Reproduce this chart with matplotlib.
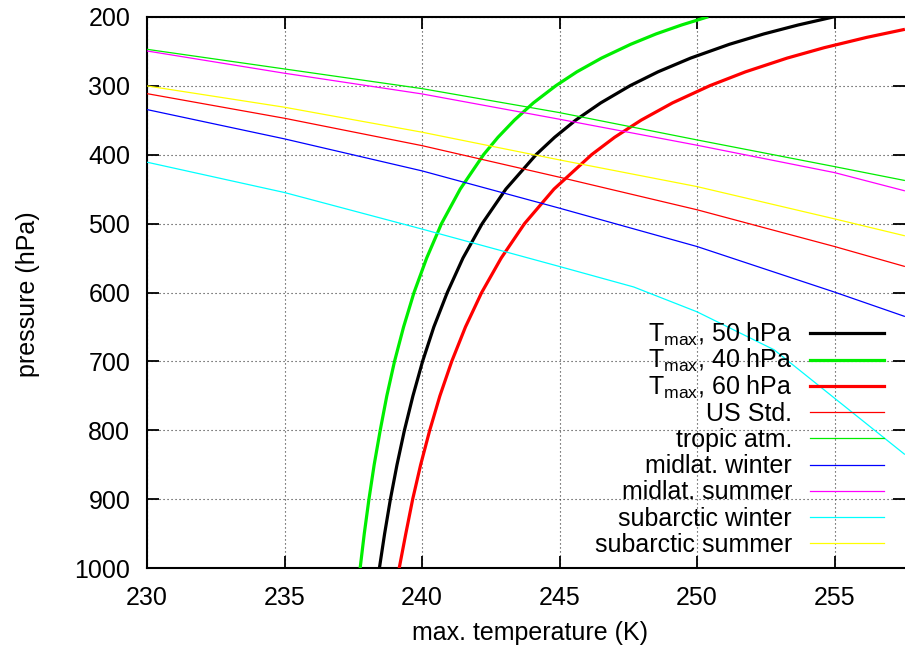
import matplotlib
matplotlib.use("Agg")
import matplotlib.pyplot as plt
from matplotlib.lines import Line2D

plt.rcParams['font.family'] = ['Liberation Sans', 'DejaVu Sans']
plt.rcParams['mathtext.fontset'] = 'custom'
plt.rcParams['mathtext.rm'] = 'Liberation Sans'
plt.rcParams['mathtext.it'] = 'Liberation Sans:italic'

# ---- data ----
# T_max curves: pressure (hPa) and temperature (K)
tmax50_p = [1000, 950, 900, 850, 800, 750, 700, 650, 600, 550, 500, 450, 400, 375, 350,
            325, 300, 280, 260, 240, 225, 212, 200]
tmax50_t = [238.45, 238.64, 238.85, 239.09, 239.36, 239.67, 240.02, 240.43, 240.92, 241.49,
            242.19, 243.05, 244.15, 244.82, 245.59, 246.50, 247.57, 248.58, 249.77, 251.18,
            252.43, 253.68, 255.00]

tmax40_p = [1000, 950, 900, 850, 800, 750, 700, 650, 600, 550, 500, 450, 400, 375, 350,
            325, 300, 280, 260, 240, 225, 212, 200]
tmax40_t = [237.75, 237.90, 238.07, 238.26, 238.48, 238.72, 239.00, 239.33, 239.71, 240.17,
            240.71, 241.39, 242.24, 242.76, 243.36, 244.05, 244.87, 245.63, 246.53, 247.59,
            248.51, 249.44, 250.41]

tmax60_p = [1000, 950, 900, 850, 800, 750, 700, 650, 600, 550, 500, 450, 400, 375, 350,
            325, 300, 280, 260, 245, 230, 218.3]
tmax60_t = [239.17, 239.41, 239.66, 239.95, 240.28, 240.65, 241.08, 241.58, 242.17, 242.88,
            243.73, 244.80, 246.17, 247.00, 247.97, 249.11, 250.47, 251.76, 253.28, 254.62,
            256.17, 257.56]

# atmosphere profiles: temperature (K) and pressure (hPa)
atm_t = [230, 235, 240, 245, 250, 255, 257.56]
us_std_p = [311.6, 347.3, 387.0, 432.8, 480.0, 533.3, 562.3]
tropic_p = [247.3, 275.8, 304.3, 339.1, 378.7, 417.4, 437.6]
midlat_winter_p = [334.7, 377.2, 423.6, 477.7, 533.3, 599.4, 634.8]
midlat_summer_p = [249.7, 282.0, 312.0, 348.7, 386.4, 426.1, 452.6]
subarctic_summer_p = [300.4, 331.3, 367.5, 407.7, 446.4, 493.2, 517.8]

subarctic_winter_t = [230, 235, 240, 245, 247.7, 250, 252.8, 257.56]
subarctic_winter_p = [411, 455, 508, 562.3, 592, 628, 683, 835]

labels = [r'T$_{\mathrm{max}}$, 50 hPa', r'T$_{\mathrm{max}}$, 40 hPa', r'T$_{\mathrm{max}}$, 60 hPa',
          'US Std.', 'tropic atm.', 'midlat. winter', 'midlat. summer',
          'subarctic winter', 'subarctic summer']

x_ticks = [230, 235, 240, 245, 250, 255]
y_ticks = [200, 300, 400, 500, 600, 700, 800, 900, 1000]

# ---- figure ----
W, H = 905, 648
fig = plt.figure(figsize=(W / 100, H / 100), dpi=100)
ax_left, ax_right, ax_top, ax_bot = 147, 905, 16.7, 568.3
ax = fig.add_axes([ax_left / W, (H - ax_bot) / H, (ax_right - ax_left) / W, (ax_bot - ax_top) / H])

thick = 2.3
thin = 0.9
series = [
    (tmax50_t, tmax50_p, '#000000', thick),
    (tmax40_t, tmax40_p, '#00ee00', thick),
    (tmax60_t, tmax60_p, '#ff0000', thick),
    (atm_t, us_std_p, '#ff0000', thin),
    (atm_t, tropic_p, '#00ee00', thin),
    (atm_t, midlat_winter_p, '#0000ff', thin),
    (atm_t, midlat_summer_p, '#ff00ff', thin),
    (subarctic_winter_t, subarctic_winter_p, '#00ffff', thin),
    (atm_t, subarctic_summer_p, '#ffff00', thin),
]
for i, (t, p, c, lw) in enumerate(series):
    ax.plot(t, p, color=c, lw=lw, zorder=3 + i * 0.01, solid_capstyle='butt',
            solid_joinstyle='round')

ax.set_xlim(230, 230 + (ax_right - ax_left) / 27.5)
ax.set_ylim(1000, 200)
ax.set_xticks(x_ticks)
ax.set_yticks(y_ticks)
ax.tick_params(direction='in', length=8.6, width=1.3, labelsize=18, top=True, right=True)
ax.tick_params(axis='y', pad=12)
ax.tick_params(axis='x', pad=13)
ax.grid(True, color='#333333', linestyle=(0, (1, 2.6)), linewidth=0.8, zorder=1)
for s in ['left', 'bottom', 'top']:
    ax.spines[s].set_linewidth(1.5)
ax.spines['right'].set_visible(False)

fig.text(530 / W, 1 - 633 / H, 'max. temperature (K)', ha='center', va='center', fontsize=18)
fig.text(28 / W, 1 - 294 / H, 'pressure (hPa)', ha='center', va='center', rotation=90, fontsize=18)

# ---- key (gnuplot-style: right aligned text, sample to the right) ----
for i, (lab, (t, p, c, lw)) in enumerate(zip(labels, series)):
    yl = 333.3 + i * 26.25
    fig.add_artist(Line2D([810 / W, 884 / W], [1 - yl / H, 1 - yl / H], color=c, lw=lw,
                          transform=fig.transFigure, zorder=2))
    fig.text(792 / W, 1 - (yl + 8.5) / H, lab, ha='right', va='baseline', fontsize=18, zorder=2)

fig.savefig('out.png', dpi=100)
